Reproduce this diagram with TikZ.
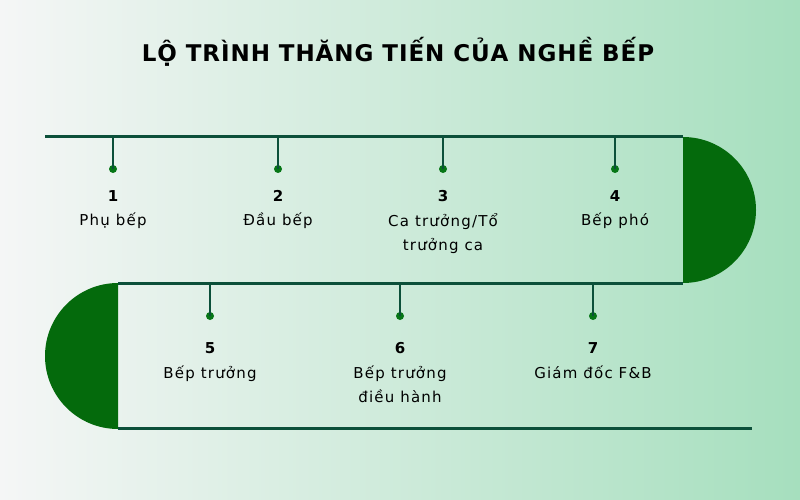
\documentclass[tikz,border=0pt]{standalone}
\usepackage{fontspec}
\setmainfont{DejaVu Sans}
\definecolor{bgL}{RGB}{245,246,246}
\definecolor{bgR}{RGB}{166,223,190}
\definecolor{track}{RGB}{12,80,58}
\definecolor{cap}{RGB}{4,106,12}
\definecolor{dotc}{RGB}{6,118,22}
\tikzset{
  trackline/.style={draw=track, line width=3pt},
  tick/.style={draw=track, line width=2.6pt},
  dotnode/.style={circle, fill=dotc, inner sep=0pt, minimum size=8pt},
  numlbl/.style={font=\fontsize{15}{18}\selectfont\bfseries, text=black, inner sep=0pt},
  txtlbl/.style={font=\fontsize{15}{24}\selectfont\addfontfeature{LetterSpace=8}, text=black, align=center, inner sep=0pt, anchor=north},
  capfill/.style={fill=cap}
}
\begin{document}
\begin{tikzpicture}[x=1pt,y=-1pt]
\useasboundingbox (0,0) rectangle (800,500);
\shade[left color=bgL, right color=bgR] (0,0) rectangle (800,500);
\node[font=\fontsize{23}{30}\selectfont\bfseries\addfontfeature{LetterSpace=4}, inner sep=0pt] (title) at (398,52) {LỘ TRÌNH THĂNG TIẾN CỦA NGHỀ BẾP};
% semicircles
\fill[capfill] (683,137) arc[start angle=-90, end angle=90, radius=73] -- cycle;
\fill[capfill] (118,283) arc[start angle=-90, end angle=-270, radius=73] -- cycle;
% track
\coordinate (a0) at (45,137);
\coordinate (a1) at (683,137);
\coordinate (b0) at (118,283);
\coordinate (b1) at (683,283);
\coordinate (c0) at (118,428);
\coordinate (c1) at (752,428);
\draw[trackline] (a0) -- (a1);
\draw[trackline] (b0) -- (b1);
\draw[trackline] (c0) -- (c1);
% top items
\foreach \i/\x/\t in {1/113/{Phụ bếp},2/278/{Đầu bếp},3/443/{Ca trưởng/Tổ\\trưởng ca},4/615/{Bếp phó}}{
  \coordinate (tt\i) at (\x,137);
  \node[dotnode] (d\i) at (\x,169) {};
  \draw[tick] (tt\i) -- (d\i.center);
  \node[numlbl] (n\i) at (\x,196) {\i};
  \node[txtlbl] (l\i) at (\x,213) {\t};
}
% bottom items
\foreach \i/\x/\t in {5/210/{Bếp trưởng},6/400/{Bếp trưởng\\điều hành},7/593/{Giám đốc F\&B}}{
  \coordinate (tt\i) at (\x,283);
  \node[dotnode] (d\i) at (\x,316) {};
  \draw[tick] (tt\i) -- (d\i.center);
  \node[numlbl] (n\i) at (\x,348) {\i};
  \node[txtlbl] (l\i) at (\x,366) {\t};
}
\end{tikzpicture}
\end{document}
